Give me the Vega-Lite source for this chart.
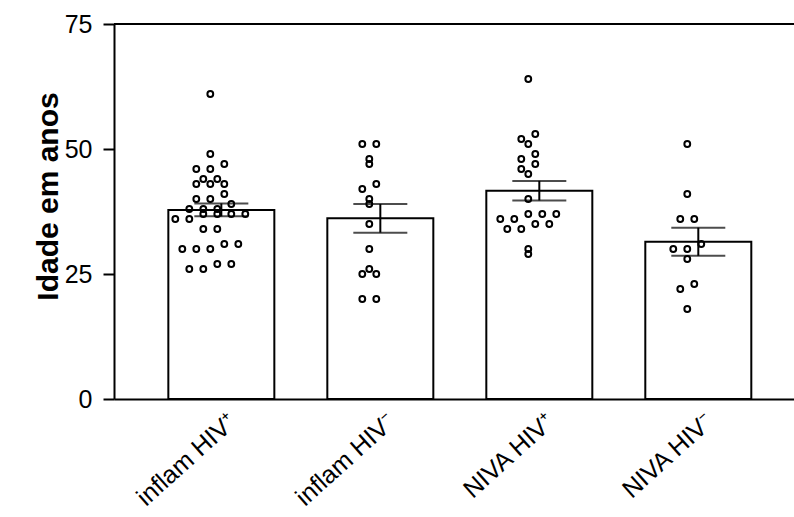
{
  "$schema": "https://vega.github.io/schema/vega-lite/v6.json",
  "width": 680,
  "height": 375,
  "autosize": {"type": "none"},
  "padding": {"left": 114, "top": 24, "right": 0, "bottom": 118},
  "background": "white",
  "config": {
    "view": {"stroke": null},
    "font": "Liberation Sans"
  },
  "data": {
    "values": [
      {"grupo": "inflam HIV⁺", "idade": 61},
      {"grupo": "inflam HIV⁺", "idade": 49},
      {"grupo": "inflam HIV⁺", "idade": 47},
      {"grupo": "inflam HIV⁺", "idade": 46},
      {"grupo": "inflam HIV⁺", "idade": 46},
      {"grupo": "inflam HIV⁺", "idade": 44},
      {"grupo": "inflam HIV⁺", "idade": 43},
      {"grupo": "inflam HIV⁺", "idade": 43},
      {"grupo": "inflam HIV⁺", "idade": 43},
      {"grupo": "inflam HIV⁺", "idade": 44},
      {"grupo": "inflam HIV⁺", "idade": 41},
      {"grupo": "inflam HIV⁺", "idade": 40},
      {"grupo": "inflam HIV⁺", "idade": 40},
      {"grupo": "inflam HIV⁺", "idade": 39},
      {"grupo": "inflam HIV⁺", "idade": 38},
      {"grupo": "inflam HIV⁺", "idade": 38},
      {"grupo": "inflam HIV⁺", "idade": 38},
      {"grupo": "inflam HIV⁺", "idade": 37},
      {"grupo": "inflam HIV⁺", "idade": 37},
      {"grupo": "inflam HIV⁺", "idade": 37},
      {"grupo": "inflam HIV⁺", "idade": 37},
      {"grupo": "inflam HIV⁺", "idade": 36},
      {"grupo": "inflam HIV⁺", "idade": 36},
      {"grupo": "inflam HIV⁺", "idade": 34},
      {"grupo": "inflam HIV⁺", "idade": 34},
      {"grupo": "inflam HIV⁺", "idade": 31},
      {"grupo": "inflam HIV⁺", "idade": 30},
      {"grupo": "inflam HIV⁺", "idade": 30},
      {"grupo": "inflam HIV⁺", "idade": 30},
      {"grupo": "inflam HIV⁺", "idade": 31},
      {"grupo": "inflam HIV⁺", "idade": 27},
      {"grupo": "inflam HIV⁺", "idade": 26},
      {"grupo": "inflam HIV⁺", "idade": 26},
      {"grupo": "inflam HIV⁺", "idade": 27},
      {"grupo": "inflam HIV⁻", "idade": 51},
      {"grupo": "inflam HIV⁻", "idade": 51},
      {"grupo": "inflam HIV⁻", "idade": 48},
      {"grupo": "inflam HIV⁻", "idade": 47},
      {"grupo": "inflam HIV⁻", "idade": 43},
      {"grupo": "inflam HIV⁻", "idade": 42},
      {"grupo": "inflam HIV⁻", "idade": 40},
      {"grupo": "inflam HIV⁻", "idade": 39},
      {"grupo": "inflam HIV⁻", "idade": 35},
      {"grupo": "inflam HIV⁻", "idade": 30},
      {"grupo": "inflam HIV⁻", "idade": 26},
      {"grupo": "inflam HIV⁻", "idade": 25},
      {"grupo": "inflam HIV⁻", "idade": 25},
      {"grupo": "inflam HIV⁻", "idade": 20},
      {"grupo": "inflam HIV⁻", "idade": 20},
      {"grupo": "NIVA HIV⁺", "idade": 64},
      {"grupo": "NIVA HIV⁺", "idade": 53},
      {"grupo": "NIVA HIV⁺", "idade": 52},
      {"grupo": "NIVA HIV⁺", "idade": 51},
      {"grupo": "NIVA HIV⁺", "idade": 49},
      {"grupo": "NIVA HIV⁺", "idade": 48},
      {"grupo": "NIVA HIV⁺", "idade": 47},
      {"grupo": "NIVA HIV⁺", "idade": 46},
      {"grupo": "NIVA HIV⁺", "idade": 45},
      {"grupo": "NIVA HIV⁺", "idade": 40},
      {"grupo": "NIVA HIV⁺", "idade": 37},
      {"grupo": "NIVA HIV⁺", "idade": 37},
      {"grupo": "NIVA HIV⁺", "idade": 37},
      {"grupo": "NIVA HIV⁺", "idade": 36},
      {"grupo": "NIVA HIV⁺", "idade": 36},
      {"grupo": "NIVA HIV⁺", "idade": 35},
      {"grupo": "NIVA HIV⁺", "idade": 35},
      {"grupo": "NIVA HIV⁺", "idade": 34},
      {"grupo": "NIVA HIV⁺", "idade": 34},
      {"grupo": "NIVA HIV⁺", "idade": 30},
      {"grupo": "NIVA HIV⁺", "idade": 29},
      {"grupo": "NIVA HIV⁻", "idade": 51},
      {"grupo": "NIVA HIV⁻", "idade": 41},
      {"grupo": "NIVA HIV⁻", "idade": 36},
      {"grupo": "NIVA HIV⁻", "idade": 36},
      {"grupo": "NIVA HIV⁻", "idade": 31},
      {"grupo": "NIVA HIV⁻", "idade": 30},
      {"grupo": "NIVA HIV⁻", "idade": 30},
      {"grupo": "NIVA HIV⁻", "idade": 28},
      {"grupo": "NIVA HIV⁻", "idade": 23},
      {"grupo": "NIVA HIV⁻", "idade": 22},
      {"grupo": "NIVA HIV⁻", "idade": 18}
    ]
  },
  "resolve": {"scale": {"x": "independent"}},
  "layer": [
    {
      "encoding": {
        "x": {
          "field": "grupo",
          "type": "nominal",
          "sort": ["inflam HIV⁺", "inflam HIV⁻", "NIVA HIV⁺", "NIVA HIV⁻"],
          "scale": {"type": "band", "paddingInner": 0.333, "paddingOuter": 0.305, "align": 0.56},
          "axis": {
            "title": null,
            "ticks": false,
            "domainColor": "black",
            "domainWidth": 2,
            "labelAngle": -42,
            "labelPadding": 10,
            "labelOffset": 3,
            "labelFont": "Liberation Sans",
            "labelFontSize": 25,
            "labelColor": "black"
          }
        }
      },
      "layer": [
        {
          "mark": {"type": "bar", "fill": "white", "stroke": "black", "strokeWidth": 2, "width": 106},
          "encoding": {
            "y": {
              "aggregate": "mean",
              "field": "idade",
              "type": "quantitative",
              "title": "Idade em anos",
              "scale": {"domain": [0, 75], "nice": false},
              "axis": {
                "values": [0, 25, 50, 75],
                "grid": false,
                "domainColor": "black",
                "domainWidth": 2,
                "tickColor": "black",
                "tickWidth": 2,
                "tickSize": 11,
                "labelPadding": 11,
                "labelFont": "Liberation Sans",
                "labelFontSize": 25,
                "labelColor": "black",
                "titleFont": "Liberation Sans",
                "titleFontSize": 30,
                "titleFontWeight": "bold",
                "titleColor": "black",
                "titleBaseline": "alphabetic",
                "titleX": -57,
                "titleY": 172
              }
            }
          }
        },
        {
          "mark": {
            "type": "errorbar",
            "extent": "stderr",
            "color": "black",
            "rule": {"strokeWidth": 2, "color": "black"},
            "ticks": {"size": 54, "thickness": 2, "color": "black"}
          },
          "encoding": {
            "y": {"field": "idade", "type": "quantitative", "title": "Idade em anos"}
          }
        }
      ]
    },
    {
      "transform": [
        {"bin": {"step": 2, "anchor": 0}, "field": "idade", "as": "faixa"},
        {"window": [{"op": "count", "as": "um"}], "frame": [0, 0], "groupby": ["grupo", "faixa"]},
        {
          "stack": "um",
          "groupby": ["grupo", "faixa"],
          "sort": [{"field": "idade", "order": "ascending"}],
          "offset": "center",
          "as": ["pos0", "pos1"]
        }
      ],
      "mark": {"type": "point", "shape": "circle", "filled": false, "stroke": "black", "strokeWidth": 2, "size": 34, "opacity": 1},
      "encoding": {
        "x": {
          "field": "grupo",
          "type": "nominal",
          "sort": ["inflam HIV⁺", "inflam HIV⁻", "NIVA HIV⁺", "NIVA HIV⁻"],
          "scale": {"type": "band", "paddingInner": 0.333, "paddingOuter": 0.305, "align": 0.56},
          "axis": null
        },
        "y": {"field": "idade", "type": "quantitative", "title": "Idade em anos"},
        "xOffset": {"field": "pos0", "type": "quantitative", "scale": {"domain": [-4.286, 3.286], "range": [-53, 53]}}
      }
    },
    {
      "mark": {"type": "rule", "stroke": "black", "strokeWidth": 2},
      "encoding": {"y": {"datum": 75}}
    }
  ]
}
